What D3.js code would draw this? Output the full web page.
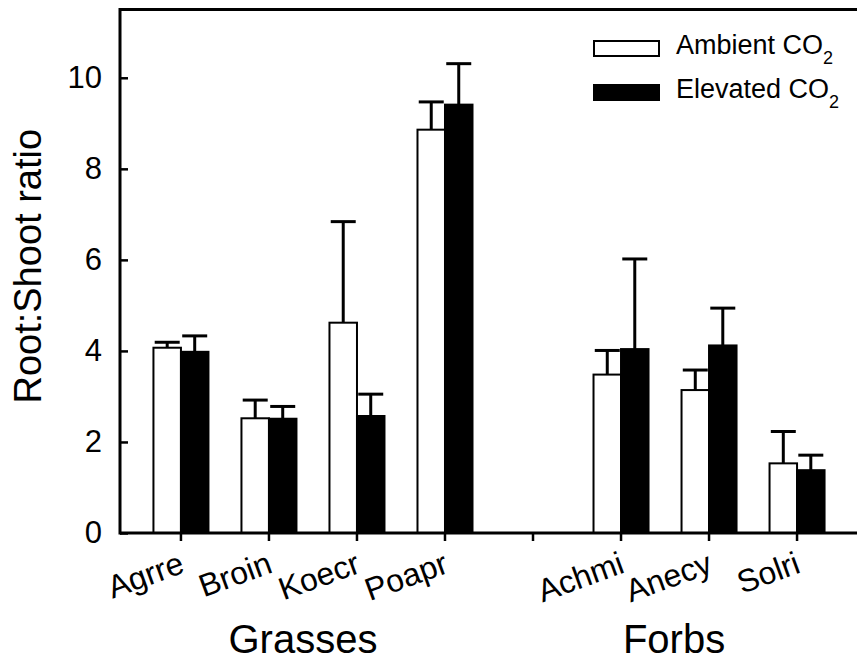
<!DOCTYPE html>
<html>
<head>
<meta charset="utf-8">
<script src="https://cdn.jsdelivr.net/npm/d3@7/dist/d3.min.js"></script>
<style>
  body { margin: 0; background: #fff; }
  svg { display: block; font-family: "Liberation Sans", Arial, Helvetica, sans-serif; }
</style>
</head>
<body>
<svg id="chart" width="857" height="660"></svg>
<script>
var grasses = ["Agrre", "Broin", "Koecr", "Poapr"];
var forbs = ["Achmi", "Anecy", "Solri"];
var groupLabels = ["Grasses", "Forbs"];
var seriesNames = ["Ambient", "Elevated"];

// root:shoot ratio, means and upper error (SE)
var ambientMean = [4.07, 2.52, 4.62, 8.86, 3.48, 3.14, 1.53];
var ambientErr = [0.12, 0.40, 2.22, 0.61, 0.53, 0.44, 0.70];
var elevatedMean = [3.98, 2.51, 2.57, 9.41, 4.04, 4.12, 1.38];
var elevatedErr = [0.35, 0.27, 0.48, 0.90, 1.98, 0.82, 0.33];

var yTicks = [0, 2, 4, 6, 8, 10];

var svg = d3.select("#chart");
var plotLeft = 120, plotRight = 858, plotTop = 9.5, plotBottom = 533;

// a blank slot separates grasses from forbs
var gap = "gap";
var species = grasses.concat(forbs);
var slots = grasses.concat([gap], forbs);

var x = d3.scaleBand().domain(slots).range([plotLeft, plotRight]).paddingInner(0.375).paddingOuter(0.38);
var xs = d3.scaleBand().domain(seriesNames).range([0, x.bandwidth()]);
var y = d3.scaleLinear().domain([0, 11.5]).range([plotBottom, plotTop]);

var rows = species.map(function(s, i) {
  return [
    { sp: s, series: "Ambient", mean: ambientMean[i], err: ambientErr[i] },
    { sp: s, series: "Elevated", mean: elevatedMean[i], err: elevatedErr[i] }
  ];
});
var data = d3.merge(rows);

// bars
var bar = svg.append("g").selectAll("g").data(data).enter().append("g")
  .attr("transform", function(d) { return "translate(" + (x(d.sp) + xs(d.series)) + ",0)"; });

// error bars (upper only), drawn first so the bar covers the base
bar.append("line")
  .attr("x1", xs.bandwidth() / 2).attr("x2", xs.bandwidth() / 2)
  .attr("y1", function(d) { return y(d.mean); })
  .attr("y2", function(d) { return y(d.mean + d.err); })
  .attr("stroke", "#000").attr("stroke-width", 3);
bar.append("line")
  .attr("x1", xs.bandwidth() / 2 - 12.5).attr("x2", xs.bandwidth() / 2 + 12.5)
  .attr("y1", function(d) { return y(d.mean + d.err); })
  .attr("y2", function(d) { return y(d.mean + d.err); })
  .attr("stroke", "#000").attr("stroke-width", 3);

bar.append("rect")
  .attr("x", 0)
  .attr("width", xs.bandwidth())
  .attr("y", function(d) { return y(d.mean); })
  .attr("height", function(d) { return y(0) - y(d.mean); })
  .attr("fill", function(d) { return d.series === "Ambient" ? "#fff" : "#000"; })
  .attr("stroke", "#000").attr("stroke-width", 2);

// y axis, ticks pointing in
var yAxis = svg.append("g").attr("transform", "translate(" + plotLeft + ",0)")
  .call(d3.axisLeft(y).tickValues(yTicks).tickSize(-8).tickPadding(18).tickFormat(d3.format("d")));
yAxis.select(".domain").remove();
yAxis.selectAll(".tick line").attr("stroke-width", 2.5);
yAxis.selectAll(".tick text").attr("font-size", 31).attr("font-family", null).attr("fill", "#000");

// x axis
var xAxis = svg.append("g").attr("transform", "translate(0," + plotBottom + ")")
  .call(d3.axisBottom(x).tickSize(8).tickFormat(""));
xAxis.select(".domain").remove();
xAxis.selectAll(".tick line").attr("stroke-width", 2.5);

// frame lines
svg.append("line").attr("x1", plotLeft).attr("x2", plotRight).attr("y1", plotBottom).attr("y2", plotBottom)
  .attr("stroke", "#000").attr("stroke-width", 3);
svg.append("line").attr("x1", plotLeft).attr("x2", plotRight).attr("y1", plotTop).attr("y2", plotTop)
  .attr("stroke", "#000").attr("stroke-width", 3);
svg.append("line").attr("x1", plotLeft).attr("x2", plotLeft).attr("y1", plotTop - 1.5).attr("y2", plotBottom + 1.5)
  .attr("stroke", "#000").attr("stroke-width", 3);

// species labels, tilted
svg.append("g").selectAll("text").data(species).enter().append("text")
  .attr("transform", function(d) { return "translate(" + (x(d) + x.bandwidth() / 2 + 5) + "," + (plotBottom + 39) + ") rotate(-20)"; })
  .attr("text-anchor", "end")
  .attr("font-size", 32)
  .text(function(d) { return d; });

// group labels
var groupCenters = [(x(grasses[0]) + x(grasses[grasses.length - 1]) + x.bandwidth()) / 2 - 10,
                    (x(forbs[0]) + x(forbs[forbs.length - 1]) + x.bandwidth()) / 2 - 35];
svg.append("g").selectAll("text").data(groupLabels).enter().append("text")
  .attr("x", function(d, i) { return groupCenters[i]; })
  .attr("y", 653)
  .attr("text-anchor", "middle")
  .attr("font-size", 40)
  .text(function(d) { return d; });

// y title
svg.append("text")
  .attr("transform", "translate(41," + ((plotTop + plotBottom) / 2 - 5) + ") rotate(-90)")
  .attr("text-anchor", "middle")
  .attr("font-size", 38)
  .text("Root:Shoot ratio");

// legend
var legend = svg.append("g").selectAll("g").data(seriesNames).enter().append("g")
  .attr("transform", function(d, i) { return "translate(593," + (40 + i * 44) + ")"; });
legend.append("rect")
  .attr("x", 1).attr("y", 1).attr("width", 65).attr("height", 15)
  .attr("fill", function(d) { return d === "Ambient" ? "#fff" : "#000"; })
  .attr("stroke", "#000").attr("stroke-width", 2);
var lt = legend.append("text").attr("x", 83).attr("y", 13.5).attr("font-size", 27);
lt.append("tspan").text(function(d) { return d + " CO"; });
lt.append("tspan").attr("dy", 10).attr("font-size", 18).text("2");
</script>
</body>
</html>
